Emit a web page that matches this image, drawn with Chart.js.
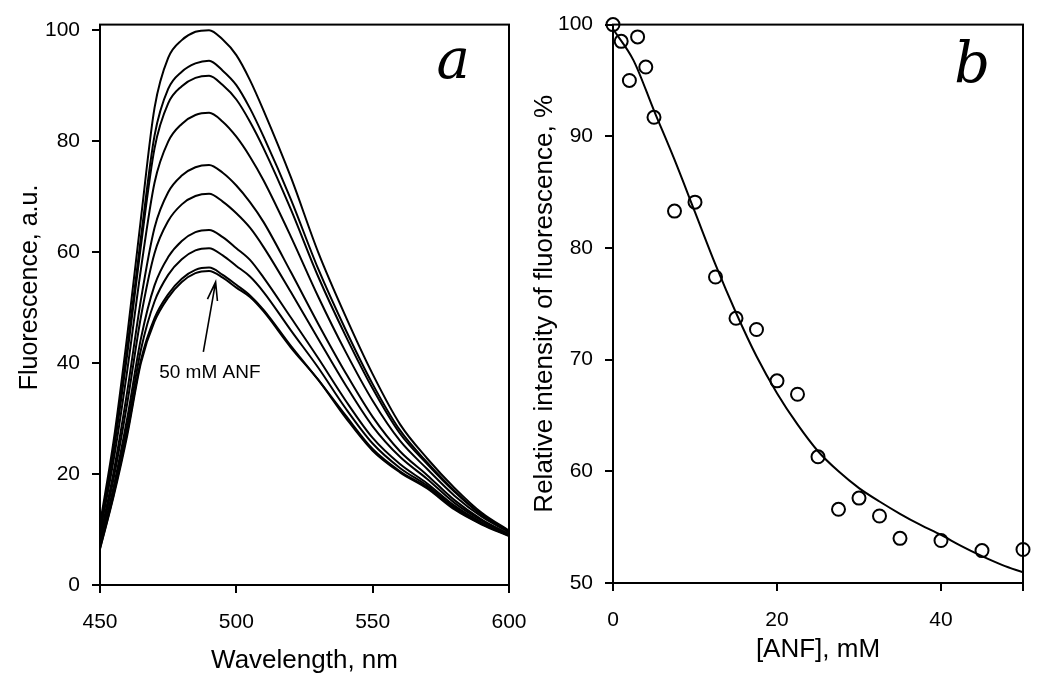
<!DOCTYPE html>
<html>
<head>
<meta charset="utf-8">
<script src="https://cdn.jsdelivr.net/npm/chart.js@4.4.0/dist/chart.umd.min.js"></script>
<style>
  html, body { margin: 0; padding: 0; background: #fff; }
  #wrap { position: relative; width: 1050px; height: 691px; overflow: hidden; }
  canvas { position: absolute; top: 0; }
  #chartA { left: 0; }
  #chartB { left: 520px; }
</style>
</head>
<body>
<div id="wrap">
  <canvas id="chartA" width="550" height="691"></canvas>
  <canvas id="chartB" width="530" height="691"></canvas>
</div>
<script>
// panel a: emission spectra, 0 ... 50 mM ANF (top to bottom)
const wavelengths = [450, 455, 460, 465, 470, 475, 480, 485, 490, 495, 500, 505, 510, 520, 530, 540, 550, 560, 570, 580, 590, 600];
const spec0 = [11.0, 26.0, 45.0, 66.0, 86.0, 95.0, 98.2, 99.7, 100.0, 98.3, 95.5, 91.0, 85.5, 73.5, 60.0, 48.5, 38.0, 29.0, 22.8, 17.5, 13.0, 9.8];
const spec1 = [10.4, 24.7, 42.7, 62.6, 81.0, 89.4, 92.5, 94.0, 94.5, 92.7, 90.1, 85.9, 80.8, 69.5, 57.0, 46.1, 36.2, 27.9, 22.1, 17.0, 12.7, 9.7];
const spec2 = [10.1, 24.1, 41.6, 61.1, 78.7, 86.8, 89.9, 91.4, 91.8, 90.1, 87.5, 83.5, 78.7, 67.7, 55.6, 45.0, 35.4, 27.3, 21.8, 16.8, 12.6, 9.6];
const spec3 = [9.4, 22.5, 38.7, 56.9, 72.5, 79.9, 83.1, 84.7, 85.1, 83.5, 80.8, 77.2, 72.9, 62.8, 52.0, 42.1, 33.2, 26.0, 20.9, 16.1, 12.3, 9.5];
const spec4 = [8.5, 20.4, 34.9, 51.4, 64.4, 70.8, 73.8, 75.3, 75.7, 74.3, 72.0, 69.0, 65.4, 56.4, 47.1, 38.3, 30.3, 24.1, 19.8, 15.3, 11.8, 9.2];
const spec5 = [7.9, 19.2, 32.8, 48.3, 59.8, 65.6, 68.6, 70.1, 70.5, 69.1, 67.0, 64.4, 60.9, 52.8, 44.4, 36.1, 28.6, 23.1, 19.1, 14.8, 11.6, 9.1];
const spec6 = [7.3, 17.7, 30.1, 44.4, 54.0, 59.1, 62.0, 63.6, 64.0, 62.7, 60.7, 58.6, 55.4, 48.2, 40.9, 33.3, 26.5, 21.8, 18.3, 14.3, 11.3, 9.0];
const spec7 = [6.9, 16.9, 28.7, 42.4, 51.1, 55.9, 58.7, 60.3, 60.7, 59.4, 57.5, 55.6, 52.8, 45.9, 39.2, 31.9, 25.5, 21.1, 17.9, 14.0, 11.1, 8.9];
const spec8 = [6.6, 16.3, 27.5, 40.5, 48.1, 52.4, 55.2, 56.8, 57.2, 55.9, 54.1, 52.2, 49.6, 43.1, 37.0, 30.6, 24.5, 20.5, 17.6, 13.8, 11.0, 8.9];
const spec9 = [6.5, 16.0, 27.0, 40.0, 47.5, 51.8, 54.6, 56.2, 56.6, 55.4, 53.6, 51.9, 49.3, 42.8, 37.0, 30.2, 24.2, 20.3, 17.4, 13.6, 10.9, 8.8];
const spectra = [spec0, spec1, spec2, spec3, spec4, spec5, spec6, spec7, spec8, spec9];

// panel b: relative intensity vs [ANF]
const anfConc = [0, 1, 2, 3, 4, 5, 7.5, 10, 12.5, 15, 17.5, 20, 22.5, 25, 27.5, 30, 32.5, 35, 40, 45, 50];
const relIntensity = [100, 98.5, 95.0, 98.9, 96.2, 91.7, 83.3, 84.1, 77.4, 73.7, 72.7, 68.1, 66.9, 61.3, 56.6, 57.6, 56.0, 54.0, 53.8, 52.9, 53.0];
const fitConc = [0, 2.5, 5, 7.5, 10, 12.5, 15, 17.5, 20, 22.5, 25, 27.5, 30, 32.5, 35, 37.5, 40, 42.5, 45, 47.5, 50];
const fitIntensity = [99.6, 96.8, 92.3, 87.9, 83.2, 78.5, 74.2, 70.3, 67.0, 64.2, 61.8, 60.0, 58.5, 57.3, 56.2, 55.2, 54.3, 53.3, 52.4, 51.6, 50.95];

// tick labels
const xTicksA = [450, 500, 550, 600];
const yTicksA = [0, 20, 40, 60, 80, 100];
const xTicksB = [0, 20, 40, 50];
const yTicksB = [50, 60, 70, 80, 90, 100];

const sans = '"Liberation Sans", Arial, sans-serif';
Chart.defaults.color = '#000';
Chart.defaults.font.family = sans;

// frame round the plot area + free text and arrows placed in data units
const notesPlugin = {
  id: 'notes',
  afterDraw(chart, args, opts) {
    const {ctx, chartArea: ca, scales: {x, y}} = chart;
    ctx.save();
    ctx.strokeStyle = '#000';
    ctx.lineWidth = 2;
    ctx.strokeRect(ca.left, ca.top, ca.right - ca.left, ca.bottom - ca.top);
    ctx.fillStyle = '#000';
    ctx.textAlign = 'center';
    ctx.textBaseline = 'middle';
    (opts.texts || []).forEach(t => {
      ctx.font = t.font;
      ctx.fillText(t.text, x.getPixelForValue(t.x), y.getPixelForValue(t.y));
    });
    (opts.arrows || []).forEach(a => {
      const x0 = x.getPixelForValue(a.from[0]), y0 = y.getPixelForValue(a.from[1]);
      const x1 = x.getPixelForValue(a.to[0]), y1 = y.getPixelForValue(a.to[1]);
      const ang = Math.atan2(y1 - y0, x1 - x0);
      const len = 19, spread = 0.27;
      ctx.lineWidth = 1.6;
      ctx.beginPath();
      ctx.moveTo(x0, y0);
      ctx.lineTo(x1, y1);
      ctx.moveTo(x1 - len * Math.cos(ang - spread), y1 - len * Math.sin(ang - spread));
      ctx.lineTo(x1, y1);
      ctx.lineTo(x1 - len * Math.cos(ang + spread), y1 - len * Math.sin(ang + spread));
      ctx.stroke();
    });
    ctx.restore();
  }
};

function axis(opts) {
  return {
    type: 'linear',
    min: opts.min,
    max: opts.max,
    afterBuildTicks: s => { s.ticks = opts.ticks.map(v => ({value: v})); },
    afterFit: opts.fit,
    grid: { drawOnChartArea: false, tickLength: 8, color: '#000', lineWidth: 2 },
    border: { display: false },
    ticks: {
      font: { family: sans, size: 21 },
      color: '#000',
      padding: opts.pad,
      maxRotation: 0,
      callback: opts.label || (v => v)
    },
    title: { display: true, text: opts.title, font: opts.titleFont, padding: opts.titlePad }
  };
}

// panel a
new Chart(document.getElementById('chartA'), {
  type: 'line',
  data: {
    datasets: spectra.map(s => ({
      data: wavelengths.map((w, i) => ({x: w, y: s[i]})),
      borderColor: '#000',
      borderWidth: 2,
      pointRadius: 0,
      fill: false,
      cubicInterpolationMode: 'monotone'
    }))
  },
  options: {
    responsive: false,
    animation: false,
    events: [],
    layout: { padding: { left: 0, top: 20, right: 41, bottom: 0 } },
    plugins: {
      legend: { display: false },
      tooltip: { enabled: false },
      notes: {
        texts: [
          { text: 'a', x: 579.5, y: 94, font: 'italic 56px "DejaVu Serif", serif' },
          { text: '50 mM ANF', x: 490.3, y: 38.3, font: '19px ' + sans }
        ],
        arrows: [ { from: [487.9, 42], to: [492.4, 54.6] } ]
      }
    },
    scales: {
      x: axis({ min: 450, max: 600, ticks: xTicksA, pad: 17,
        fit: s => { s.height = 106; },
        title: 'Wavelength, nm', titleFont: { family: sans, size: 26 }, titlePad: { top: 0, bottom: 15 } }),
      y: axis({ min: 0, max: 101, ticks: yTicksA, pad: 12,
        fit: s => { s.width = 100; },
        title: '     Fluorescence, a.u.', titleFont: { family: sans, size: 25 }, titlePad: { top: 15, bottom: 0 } })
    }
  },
  plugins: [notesPlugin]
});

// panel b
new Chart(document.getElementById('chartB'), {
  type: 'line',
  data: {
    datasets: [
      {
        data: fitConc.map((c, i) => ({x: c, y: fitIntensity[i]})),
        borderColor: '#000',
        borderWidth: 2,
        pointRadius: 0,
        fill: false,
        cubicInterpolationMode: 'monotone'
      },
      {
        data: anfConc.map((c, i) => ({x: c, y: relIntensity[i]})),
        showLine: false,
        clip: false,
        pointStyle: 'circle',
        pointRadius: 6.5,
        pointBorderWidth: 2,
        pointBorderColor: '#000',
        pointBackgroundColor: 'rgba(0,0,0,0)'
      }
    ]
  },
  options: {
    responsive: false,
    animation: false,
    events: [],
    layout: { padding: { left: 0, top: 17, right: 27, bottom: 0 } },
    plugins: {
      legend: { display: false },
      tooltip: { enabled: false },
      notes: {
        texts: [ { text: 'b', x: 43.8, y: 96.2, font: 'italic 56px "DejaVu Serif", serif' } ]
      }
    },
    scales: {
      x: axis({ min: 0, max: 50, ticks: xTicksB, pad: 17,
        fit: s => { s.height = 108; },
        label: v => (v === 50 ? '' : v),
        title: '[ANF], mM', titleFont: { family: sans, size: 26 }, titlePad: { top: 0, bottom: 26 } }),
      y: axis({ min: 50, max: 100, ticks: yTicksB, pad: 12,
        fit: s => { s.width = 93; },
        title: 'Relative intensity of fluorescence, %', titleFont: { family: sans, size: 26 }, titlePad: { top: 9, bottom: 0 } })
    }
  },
  plugins: [notesPlugin]
});
</script>
</body>
</html>
